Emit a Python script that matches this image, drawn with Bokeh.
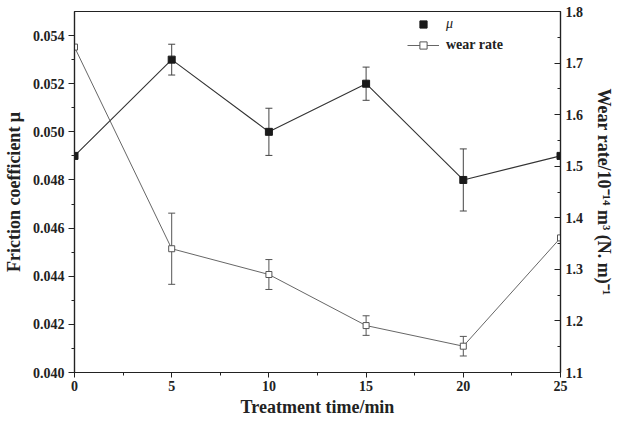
from bokeh.plotting import figure
from bokeh.models import (Range1d, LinearAxis, FixedTicker, PrintfTickFormatter,
                          ColumnDataSource, Whisker, TeeHead, Legend, LegendItem)
from bokeh.embed import file_html
from bokeh.resources import INLINE

# ---- data ----
time_min = [0, 5, 10, 15, 20, 25]
mu = [0.049, 0.053, 0.050, 0.052, 0.048, 0.049]
mu_err = [0.0, 0.00064, 0.00098, 0.00069, 0.00129, 0.0]
wear = [1.731, 1.340, 1.290, 1.191, 1.151, 1.361]
wear_err = [0.0, 0.069, 0.029, 0.019, 0.019, 0.0]

x_ticks = [0, 5, 10, 15, 20, 25]
mu_ticks = [0.040, 0.042, 0.044, 0.046, 0.048, 0.050, 0.052, 0.054]
wear_ticks = [1.1, 1.2, 1.3, 1.4, 1.5, 1.6, 1.7, 1.8]

FONT = "Liberation Serif"

p = figure(width=620, height=419, output_backend="svg", toolbar_location=None,
           x_range=Range1d(0, 25), y_range=Range1d(0.040, 0.055),
           min_border_left=72, min_border_right=60, min_border_top=11,
           min_border_bottom=44)
p.extra_y_ranges = {"wear": Range1d(1.1, 1.8)}
p.grid.visible = False
p.outline_line_color = "#222222"
p.outline_line_width = 1.2
p.background_fill_color = "white"
p.border_fill_color = "white"


def style_axis(ax):
    ax.axis_line_color = "#222222"
    ax.axis_line_width = 1.2
    ax.major_tick_line_color = "#222222"
    ax.minor_tick_line_color = "#222222"
    ax.major_label_text_font = FONT
    ax.major_label_text_font_style = "bold"
    ax.major_label_text_font_size = "14px"
    ax.major_label_text_color = "#222222"
    ax.axis_label_text_font = FONT
    ax.axis_label_text_font_style = "bold"
    ax.axis_label_text_font_size = "18px"
    ax.axis_label_text_color = "#222222"


xa = p.xaxis[0]
style_axis(xa)
xa.ticker = FixedTicker(ticks=x_ticks, minor_ticks=[2.5, 7.5, 12.5, 17.5, 22.5])
xa.major_tick_out = 5
xa.major_tick_in = 0
xa.minor_tick_out = 3
xa.minor_tick_in = 0
xa.major_label_standoff = 3
xa.axis_label = "Treatment time/min"
xa.axis_label_standoff = 3

ya = p.yaxis[0]
style_axis(ya)
ya.ticker = FixedTicker(ticks=mu_ticks,
                        minor_ticks=[0.041, 0.043, 0.045, 0.047, 0.049, 0.051, 0.053])
ya.formatter = PrintfTickFormatter(format="%.3f")
ya.major_tick_out = 6
ya.major_tick_in = 0
ya.minor_tick_out = 3
ya.minor_tick_in = 0
ya.major_label_standoff = 4
ya.axis_label = "Friction coefficient μ"
ya.axis_label_standoff = 6

ra = LinearAxis(y_range_name="wear")
style_axis(ra)
ra.ticker = FixedTicker(ticks=wear_ticks,
                        minor_ticks=[1.15, 1.25, 1.35, 1.45, 1.55, 1.65, 1.75])
ra.formatter = PrintfTickFormatter(format="%.1f")
ra.major_tick_in = 6
ra.major_tick_out = 0
ra.minor_tick_in = 3
ra.minor_tick_out = 0
ra.major_label_standoff = 5
ra.axis_label = "Wear rate/10⁻¹⁴ m³ (N. m)⁻¹"
ra.axis_label_standoff = 8
p.add_layout(ra, "right")

# ---- friction coefficient ----
src_mu = ColumnDataSource(dict(x=time_min, y=mu,
                               lo=[m - e for m, e in zip(mu, mu_err)],
                               hi=[m + e for m, e in zip(mu, mu_err)]))
p.line("x", "y", source=src_mu, line_color="#333333", line_width=1.1)
w1 = Whisker(source=src_mu, base="x", lower="lo", upper="hi",
             line_color="#444444", line_width=1,
             upper_head=TeeHead(size=7, line_color="#444444", line_width=1),
             lower_head=TeeHead(size=7, line_color="#444444", line_width=1))
p.add_layout(w1)
mu_pts = p.scatter("x", "y", source=src_mu, marker="square", size=7,
                   fill_color="#1a1a1a", line_color="#1a1a1a")

# ---- wear rate ----
src_w = ColumnDataSource(dict(x=time_min, y=wear,
                              lo=[m - e for m, e in zip(wear, wear_err)],
                              hi=[m + e for m, e in zip(wear, wear_err)]))
w_line = p.line("x", "y", source=src_w, y_range_name="wear",
                line_color="#555555", line_width=0.9)
w2 = Whisker(source=src_w, base="x", lower="lo", upper="hi", y_range_name="wear",
             line_color="#555555", line_width=1,
             upper_head=TeeHead(size=7, line_color="#555555", line_width=1),
             lower_head=TeeHead(size=7, line_color="#555555", line_width=1))
p.add_layout(w2)
w_pts = p.scatter("x", "y", source=src_w, y_range_name="wear", marker="square",
                  size=6, fill_color="white", line_color="#555555", line_width=1)

# ---- legends ----
leg1 = Legend(items=[LegendItem(label="μ", renderers=[mu_pts])],
              location=(333, 339), orientation="vertical",
              padding=0, margin=0, spacing=0, glyph_width=32, glyph_height=18,
              label_standoff=7, label_text_font=FONT, label_text_font_style="italic",
              label_text_font_size="14px", label_text_color="#222222",
              border_line_color=None, background_fill_alpha=0)
leg2 = Legend(items=[LegendItem(label="wear rate", renderers=[w_line, w_pts])],
              location=(333, 318), orientation="vertical",
              padding=0, margin=0, spacing=0, glyph_width=32, glyph_height=18,
              label_standoff=7, label_text_font=FONT, label_text_font_style="bold",
              label_text_font_size="14px", label_text_color="#222222",
              border_line_color=None, background_fill_alpha=0)
p.add_layout(leg1)
p.add_layout(leg2)

open("out.html", "w").write(file_html(p, INLINE))
